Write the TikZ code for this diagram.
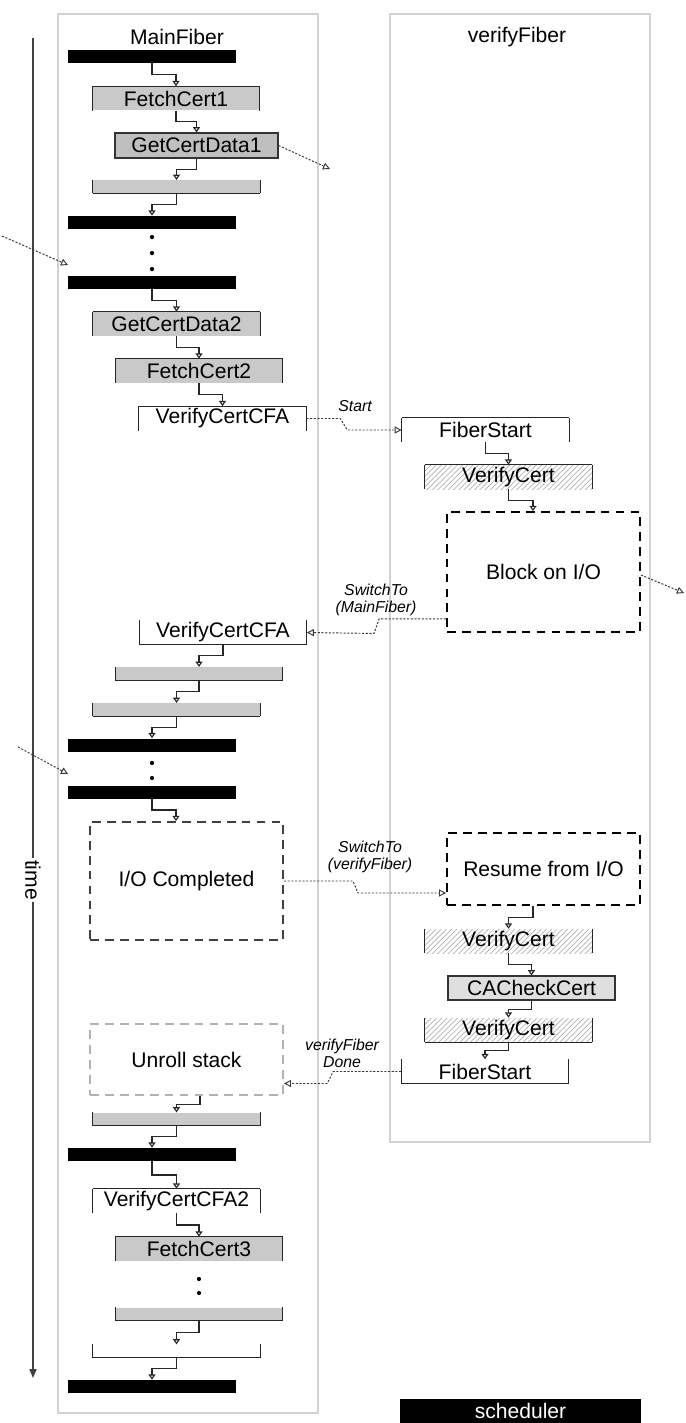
\documentclass[tikz,border=0pt]{standalone}
\usepackage{fontspec}
\setmainfont{Liberation Sans}
\usetikzlibrary{arrows.meta,calc,patterns}

\begin{document}
\begin{tikzpicture}[x=0.02cm, y=-0.02cm,
    lane/.style={draw=gray!35, line width=0.6pt},
    sched/.style={fill=black, minimum width=3.36cm, minimum height=0.26cm, inner sep=0pt},
    frm/.style={draw=black!85, line width=0.6pt, -},
    fbox/.style={minimum width=3.34cm, minimum height=0.48cm, inner sep=0pt,
                 font=\fontsize{12}{14}\selectfont},
    retbar/.style={fbox, minimum height=0.25cm},
    gfill/.style={fill=gray!42},
    hatch/.style={pattern=north east lines, pattern color=gray!60},
    full/.style={draw=black!80, line width=0.6pt},
    callin/.style={append after command={
        (\tikzlastnode.south west) edge[frm] (\tikzlastnode.north west)
        (\tikzlastnode.north west) edge[frm] (\tikzlastnode.north east)
        (\tikzlastnode.north east) edge[frm] (\tikzlastnode.south east)}},
    callout/.style={append after command={
        (\tikzlastnode.north west) edge[frm] (\tikzlastnode.south west)
        (\tikzlastnode.south west) edge[frm] (\tikzlastnode.south east)
        (\tikzlastnode.south east) edge[frm] (\tikzlastnode.north east)}},
    sides/.style={append after command={
        (\tikzlastnode.north west) edge[frm] (\tikzlastnode.south west)
        (\tikzlastnode.north east) edge[frm] (\tikzlastnode.south east)}},
    iobox/.style={draw, line width=1.1pt, dash pattern=on 5pt off 3.5pt,
                  minimum width=3.86cm, inner sep=0pt, font=\fontsize{12}{14}\selectfont},
    conn/.style={draw=black!85, line width=0.65pt, -{Triangle[open,length=3pt,width=4pt]},
                 to path={|- ($(\tikztostart)!0.5!(\tikztotarget)$) -| (\tikztotarget) \tikztonodes}},
    sw/.style={draw=gray!45!black, line width=0.55pt, dash pattern=on 1.2pt off 0.9pt,
               -{Triangle[open,length=4pt,width=4pt]}},
    lbl/.style={font=\fontsize{9}{9.5}\selectfont\itshape, align=center, inner sep=0pt},
    hdr/.style={font=\fontsize{12}{14}\selectfont}
  ]
  \useasboundingbox (0,0) rectangle (686,1423);

  % lanes
  \draw[lane] (58,14) rectangle (318,1413);
  \draw[lane] (390,14) rectangle (650,1142);
  \node[hdr] (hmain) at (177,37) {MainFiber};
  \node[hdr] (hverify) at (517,37) {verifyFiber};

  % time axis
  \coordinate (t0) at (33,38);
  \coordinate (t1) at (33,1378);
  \draw[black!75, line width=0.8pt, -{Triangle[length=5pt,width=4pt]}] (t0) -- (t1);
  \node[hdr, rotate=-90, fill=white, inner sep=1pt] (tlbl) at (33,880) {time};

  % MainFiber
  \node[sched] (b1) at (152,56.5) {};
  \node[fbox, gfill, callin] (fc1) at (176,98.5) {FetchCert1};
  \node[fbox, minimum width=3.26cm, minimum height=0.5cm, fill=gray!50, full] (gcd1) at (196.5,145.5) {GetCertData1};
  \node[retbar, gfill, callout] (r1) at (176.5,186.5) {};
  \node[sched] (b2) at (152,222.5) {};
  \node[sched] (b3) at (152,282.5) {};
  \node[fbox, gfill, callin] (gcd2) at (176.5,324) {GetCertData2};
  \node[fbox, gfill, callin] (fc2) at (199,371) {FetchCert2};
  \node[fbox, fill=white, callin] (cfa1) at (222.5,418.5) {VerifyCertCFA};
  \node[fbox, callout] (cfa2) at (223,632.5) {VerifyCertCFA};
  \node[retbar, gfill, callout] (r2) at (199,673.5) {};
  \node[retbar, gfill, callout] (r3) at (176.5,709.5) {};
  \node[sched] (b4) at (152,745) {};
  \node[sched] (b5) at (152,792) {};
  \node[iobox, draw=black!75, minimum height=2.36cm] (ioc) at (186.5,881) {I/O Completed};
  \node[iobox, draw=gray!60, minimum height=1.42cm] (unr) at (186.5,1059.5) {Unroll stack};
  \node[retbar, gfill, callout] (r4) at (176.5,1119) {};
  \node[sched] (b6) at (152,1154.5) {};
  \node[fbox, callin] (cfa3) at (176.5,1201) {VerifyCertCFA2};
  \node[fbox, gfill, callin] (fc3) at (199,1249) {FetchCert3};
  \node[retbar, gfill, callout] (r5) at (199,1314) {};
  \node[retbar, callout] (r6) at (176.5,1351) {};
  \node[sched] (b7) at (152,1386.5) {};

  \foreach \y in {237,253,269} \fill (152,\y) circle (1.2pt);
  \foreach \y in {763,778} \fill (152,\y) circle (1.2pt);
  \foreach \y in {1279,1293} \fill (199,\y) circle (1.2pt);

  % verifyFiber
  \node[fbox, callin] (fs1) at (485.5,430) {FiberStart};
  \node[fbox, hatch, callin] (vc1) at (508.5,477) {VerifyCert};
  \node[iobox, minimum height=2.4cm] (blk) at (543.5,572) {Block on I/O};
  \node[iobox, minimum height=1.44cm] (res) at (543.5,869) {Resume from I/O};
  \node[fbox, hatch, sides] (vc2) at (508.5,941) {VerifyCert};
  \node[fbox, fill=gray!25, full] (cac) at (531.5,988) {CACheckCert};
  \node[fbox, hatch, callout] (vc3) at (508.5,1030) {VerifyCert};
  \node[fbox, callout] (fs2) at (485,1071.5) {FiberStart};

  % legend
  \node[sched, minimum width=4.82cm, minimum height=0.48cm, text=white,
        font=\fontsize{12}{14}\selectfont] (leg) at (520.5,1411) {scheduler};

  % call flow
  \draw[conn] (b1.south) to (fc1.north);
  \draw[conn] (fc1.south) to (gcd1.north);
  \draw[conn] (gcd1.south) to (r1.north);
  \draw[conn] (r1.south) to (b2.north);
  \draw[conn] (b3.south) to (gcd2.north);
  \draw[conn] (gcd2.south) to (fc2.north);
  \draw[conn] (fc2.south) to (cfa1.north);
  \draw[conn] (cfa2.south) to (r2.north);
  \draw[conn] (r2.south) to (r3.north);
  \draw[conn] (r3.south) to (b4.north);
  \draw[conn] (b5.south) to ([xshift=-0.21cm]ioc.north);
  \draw[conn] ([xshift=0.27cm]unr.south) to (r4.north);
  \draw[conn] (r4.south) to (b6.north);
  \draw[conn] (b6.south) to (cfa3.north);
  \draw[conn] (cfa3.south) to (fc3.north);
  \draw[conn] (r5.south) to (r6.north);
  \draw[conn] (r6.south) to (b7.north);
  \draw[conn] (fs1.south) to (vc1.north);
  \draw[conn] (vc1.south) to ([xshift=-0.21cm]blk.north);
  \draw[conn] ([xshift=-0.21cm]res.south) to (vc2.north);
  \draw[conn] (vc2.south) to (cac.north);
  \draw[conn] (cac.south) to (vc3.north);
  \draw[conn] (vc3.south) to (fs2.north);

  % fiber switches
  \draw[sw] (cfa1.east) -- ++(34,0) -- ++(7,11.5) -- (fs1.west);
  \node[lbl] (lstart) at (355,406) {Start};
  \draw[sw] ([yshift=0.28cm]blk.south west) -- ++(-67,0) -- ++(-5,14.5) -- (cfa2.east);
  \node[lbl] (lsw1) at (376,600) {SwitchTo\\(MainFiber)};
  \draw[sw] (ioc.east) -- ++(69,0) -- ++(5,12) -- ([yshift=-0.48cm]res.west);
  \node[lbl] (lsw2) at (370,857) {SwitchTo\\(verifyFiber)};
  \draw[sw] (fs2.west) -- ++(-68,0) -- ++(-6,12) -- ([yshift=-0.48cm]unr.east);
  \node[lbl] (ldone) at (342,1053) {verifyFiber\\Done};

  % other fibers
  \coordinate (o1) at (330,169);
  \coordinate (i1a) at (2,236);
  \coordinate (i1b) at (68,265);
  \coordinate (i2a) at (18,747);
  \coordinate (i2b) at (68,774);
  \coordinate (o2) at (684,593);
  \draw[sw] (gcd1.east) -- (o1);
  \draw[sw] (i1a) -- (i1b);
  \draw[sw] (i2a) -- (i2b);
  \draw[sw] ([yshift=-0.06cm]blk.east) -- (o2);
\end{tikzpicture}
\end{document}
